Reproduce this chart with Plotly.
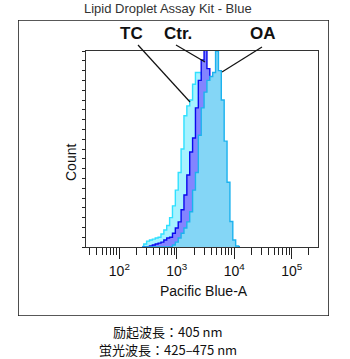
import plotly.graph_objects as go

# ---- data (log10 fluorescence bin centers, relative counts in % of axis max) ----
log_bins = [2.40, 2.45, 2.50, 2.55, 2.60, 2.65, 2.70, 2.75, 2.80, 2.85, 2.90, 2.95,
            3.00, 3.05, 3.10, 3.15, 3.20, 3.25, 3.30, 3.35, 3.40, 3.45, 3.50, 3.55,
            3.60, 3.65, 3.70, 3.75, 3.80, 3.85, 3.90, 3.95, 4.00, 4.05, 4.10]

tc_counts = [0.3, 1.5, 3.0, 3.6, 4.0, 4.6, 5.0, 6.6, 8.7, 11, 15, 21,
             29, 38, 50, 67, 72, 75, 83, 89, 89, 88, 83, 75,
             62, 47, 32, 19, 10, 4, 1, 0, 0, 0, 0]

ctr_counts = [0, 0, 0, 0.5, 1.0, 1.5, 2.0, 2.5, 3.6, 4.6, 5.0, 7.0,
              9.7, 12.8, 19, 26.5, 36.7, 48.5, 55.6, 71, 85, 95.4, 104, 91,
              77, 60, 42, 26.5, 15, 7.6, 3.6, 1, 0, 0, 0]

oa_counts = [0, 0, 0, 0, 0, 0, 0, 0, 0, 0, 0, 1.0,
             2.5, 4.6, 7.0, 9.7, 12.8, 18, 29, 38, 57, 71, 79, 85,
             87, 89, 100, 90, 75, 54, 33, 13, 3.6, 0.5, 0]

x_tick_vals = [100, 1000, 10000, 100000]
x_tick_text = ["10<sup>2</sup>", "10<sup>3</sup>", "10<sup>4</sup>", "10<sup>5</sup>"]
minor_vals = [m * 10 ** k for k in range(1, 6) for m in range(2, 10)]

frame_x = [0, 1, 1, 0, 0]
frame_y = [0, 0, 1, 1, 0]

x_vals = [10 ** v for v in log_bins]

# ---- geometry: paper area slightly larger than the outer frame ----
W, H = 350, 359
FL, FT, FR, FB = 18, 20, 329, 316          # outer frame pixels
PL, PT, PR, PB = 86, 51, 318, 247          # inner plot pixels
ML, MT, MR, MB = 10, 12, 340, 326          # paper (margin) box pixels
MW, MH = MR - ML, MB - MT


def px(x):
    return (x - ML) / MW


def py(y):
    return (MB - y) / MH


fig = go.Figure()

# outer frame, drawn on a full-paper helper axis pair
fig.add_trace(go.Scatter(
    x=frame_x, y=frame_y, xaxis="x2", yaxis="y2", mode="lines",
    line=dict(color="#222", width=1.6), cliponaxis=False,
    showlegend=False, hoverinfo="skip"))

series = [
    ("TC", tc_counts, "#a6f2ff", "#2fe0ff"),
    ("Ctr.", ctr_counts, "#8484ff", "#0a0aee"),
    ("OA", oa_counts, "#84d6f6", "#1cb2ee"),
]
for name, ys, fillc, linec in series:
    fig.add_trace(go.Scatter(
        x=x_vals, y=ys, name=name, mode="lines", line_shape="hvh",
        fill="tozeroy", fillcolor=fillc, line=dict(color=linec, width=1.4),
        showlegend=False, hoverinfo="skip"))

font_a = "Liberation Sans, Arial, sans-serif"

fig.update_layout(
    xaxis=dict(
        domain=[px(PL), px(PR)], anchor="y",
        type="log", range=[1.42, 5.458],
        tickmode="array", tickvals=x_tick_vals, ticktext=x_tick_text,
        ticks="outside", ticklen=11, tickwidth=1.2, tickcolor="#222",
        minor=dict(tickmode="array", tickvals=minor_vals, ticks="outside",
                   ticklen=7, tickwidth=1.2, tickcolor="#222"),
        showgrid=False, zeroline=False,
        showline=True, linecolor="#333", linewidth=1, mirror=True,
        tickfont=dict(family=font_a, size=14, color="#111"),
    ),
    yaxis=dict(
        domain=[py(PB), py(PT)], anchor="x",
        range=[0, 100], tickmode="linear", tick0=0, dtick=5,
        ticks="outside", ticklen=3, tickwidth=1.2, tickcolor="#222",
        showticklabels=False, showgrid=False, zeroline=False,
        showline=True, linecolor="#333", linewidth=1, mirror=True,
    ),
    xaxis2=dict(domain=[px(FL), px(FR)], anchor="y2", range=[0, 1],
                visible=False, fixedrange=True),
    yaxis2=dict(domain=[py(FB), py(FT)], anchor="x2", range=[0, 1],
                visible=False, fixedrange=True),
)


def seg(x0, y0, x1, y1, color="#111", width=1.2):
    return dict(type="line", xref="paper", yref="paper",
                x0=px(x0), y0=py(y0), x1=px(x1), y1=py(y1),
                line=dict(color=color, width=width))


shapes = [
    seg(138, 45, 190, 102),
    seg(176, 45, 205, 62),
    seg(262, 47, 222, 72),
]

annotations = [
    dict(text="Lipid Droplet Assay Kit - Blue", x=px(167.5), y=py(8),
         font=dict(family=font_a, size=13, color="#333")),
    dict(text="<b>TC</b>", x=px(131.5), y=py(33),
         font=dict(family=font_a, size=17, color="#111")),
    dict(text="<b>Ctr.</b>", x=px(178), y=py(33),
         font=dict(family=font_a, size=17, color="#111")),
    dict(text="<b>OA</b>", x=px(262.5), y=py(33),
         font=dict(family=font_a, size=17, color="#111")),
    dict(text="Count", x=px(71), y=py(163), textangle=-90,
         font=dict(family=font_a, size=14, color="#111")),
    dict(text="Pacific Blue-A", x=px(204), y=py(291),
         font=dict(family=font_a, size=14, color="#111")),
    dict(text="励起波長：405 nm", x=px(167.5), y=py(331),
         font=dict(family="Noto Sans CJK JP", size=13, color="#111")),
    dict(text="蛍光波長：425–475 nm", x=px(167.5), y=py(349),
         font=dict(family="Noto Sans CJK JP", size=13, color="#111")),
]
for a in annotations:
    a.update(xref="paper", yref="paper", showarrow=False,
             xanchor="center", yanchor="middle")

fig.update_layout(
    width=W, height=H,
    margin=dict(l=ML, r=W - MR, t=MT, b=H - MB, pad=0),
    paper_bgcolor="white", plot_bgcolor="rgba(0,0,0,0)",
    shapes=shapes, annotations=annotations,
)

fig.write_html("out.html")
